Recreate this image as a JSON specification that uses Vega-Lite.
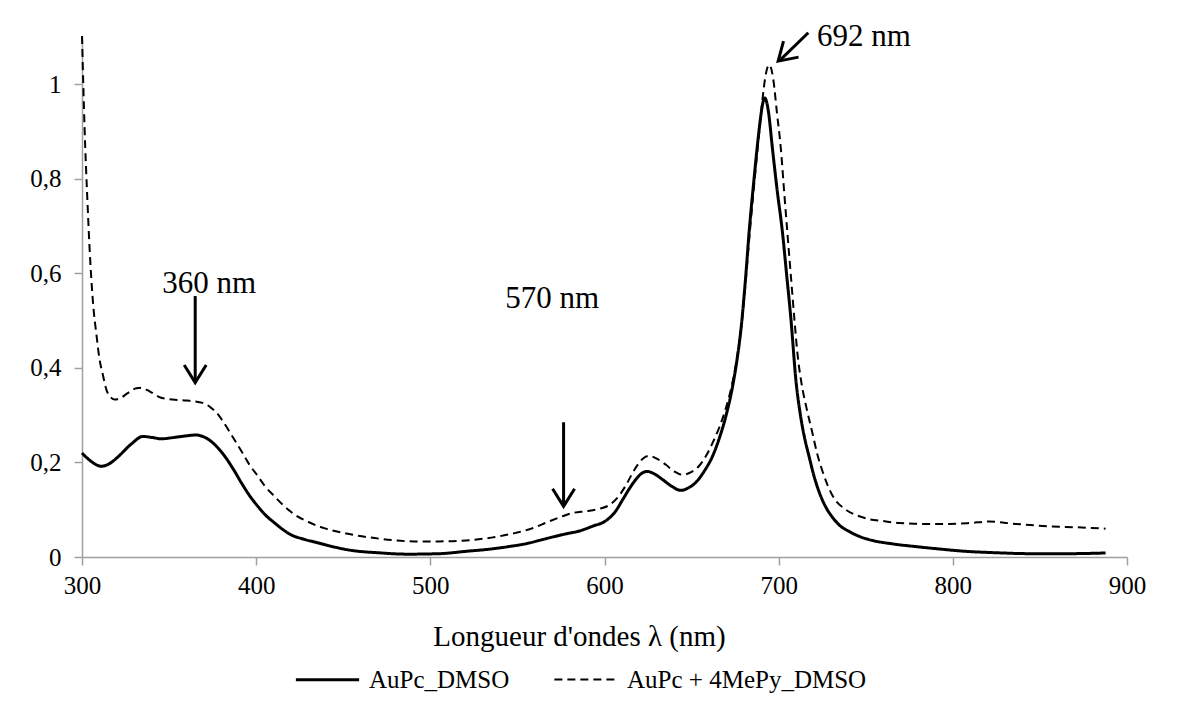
{
  "$schema": "https://vega.github.io/schema/vega-lite/v6.json",
  "width": 1045,
  "height": 520,
  "autosize": {"type": "none"},
  "padding": {"left": 82, "top": 37, "right": 57, "bottom": 151},
  "background": "white",
  "config": {
    "view": {"stroke": null},
    "font": "Liberation Serif",
    "axis": {
      "grid": false,
      "domainColor": "#a0a0a0",
      "domainWidth": 1.5,
      "tickColor": "#a0a0a0",
      "tickWidth": 1.5,
      "tickSize": 8,
      "labelFlush": false,
      "labelFont": "Liberation Serif",
      "labelFontSize": 25,
      "labelColor": "#000000",
      "titleFont": "Liberation Serif",
      "titleColor": "#000000",
      "titleFontWeight": "normal"
    }
  },
  "datasets": {
    "spectra": [
      {"s": "AuPc_DMSO", "wl": 300, "a": 0.220},
      {"s": "AuPc_DMSO", "wl": 305, "a": 0.203},
      {"s": "AuPc_DMSO", "wl": 311, "a": 0.192},
      {"s": "AuPc_DMSO", "wl": 316, "a": 0.198},
      {"s": "AuPc_DMSO", "wl": 321, "a": 0.213},
      {"s": "AuPc_DMSO", "wl": 328, "a": 0.238},
      {"s": "AuPc_DMSO", "wl": 335, "a": 0.255},
      {"s": "AuPc_DMSO", "wl": 340, "a": 0.253},
      {"s": "AuPc_DMSO", "wl": 345.5, "a": 0.250},
      {"s": "AuPc_DMSO", "wl": 351, "a": 0.252},
      {"s": "AuPc_DMSO", "wl": 357, "a": 0.255},
      {"s": "AuPc_DMSO", "wl": 365.6, "a": 0.258},
      {"s": "AuPc_DMSO", "wl": 370, "a": 0.254},
      {"s": "AuPc_DMSO", "wl": 374, "a": 0.245},
      {"s": "AuPc_DMSO", "wl": 378, "a": 0.231},
      {"s": "AuPc_DMSO", "wl": 382, "a": 0.213},
      {"s": "AuPc_DMSO", "wl": 387, "a": 0.185},
      {"s": "AuPc_DMSO", "wl": 391.5, "a": 0.157},
      {"s": "AuPc_DMSO", "wl": 396, "a": 0.131},
      {"s": "AuPc_DMSO", "wl": 401, "a": 0.107},
      {"s": "AuPc_DMSO", "wl": 405, "a": 0.090},
      {"s": "AuPc_DMSO", "wl": 410.6, "a": 0.072},
      {"s": "AuPc_DMSO", "wl": 415, "a": 0.059},
      {"s": "AuPc_DMSO", "wl": 420, "a": 0.047},
      {"s": "AuPc_DMSO", "wl": 427, "a": 0.038},
      {"s": "AuPc_DMSO", "wl": 435.4, "a": 0.030},
      {"s": "AuPc_DMSO", "wl": 445, "a": 0.021},
      {"s": "AuPc_DMSO", "wl": 454.6, "a": 0.014},
      {"s": "AuPc_DMSO", "wl": 470, "a": 0.009},
      {"s": "AuPc_DMSO", "wl": 487, "a": 0.006},
      {"s": "AuPc_DMSO", "wl": 505, "a": 0.007},
      {"s": "AuPc_DMSO", "wl": 520.5, "a": 0.012},
      {"s": "AuPc_DMSO", "wl": 535, "a": 0.017},
      {"s": "AuPc_DMSO", "wl": 545, "a": 0.022},
      {"s": "AuPc_DMSO", "wl": 556, "a": 0.029},
      {"s": "AuPc_DMSO", "wl": 564.5, "a": 0.037},
      {"s": "AuPc_DMSO", "wl": 571, "a": 0.043},
      {"s": "AuPc_DMSO", "wl": 578, "a": 0.049},
      {"s": "AuPc_DMSO", "wl": 585.6, "a": 0.055},
      {"s": "AuPc_DMSO", "wl": 593, "a": 0.065},
      {"s": "AuPc_DMSO", "wl": 600.9, "a": 0.077},
      {"s": "AuPc_DMSO", "wl": 606, "a": 0.095},
      {"s": "AuPc_DMSO", "wl": 610.4, "a": 0.121},
      {"s": "AuPc_DMSO", "wl": 614, "a": 0.143},
      {"s": "AuPc_DMSO", "wl": 618, "a": 0.164},
      {"s": "AuPc_DMSO", "wl": 621, "a": 0.176},
      {"s": "AuPc_DMSO", "wl": 624.7, "a": 0.181},
      {"s": "AuPc_DMSO", "wl": 628, "a": 0.177},
      {"s": "AuPc_DMSO", "wl": 633.3, "a": 0.164},
      {"s": "AuPc_DMSO", "wl": 638, "a": 0.151},
      {"s": "AuPc_DMSO", "wl": 643.9, "a": 0.141},
      {"s": "AuPc_DMSO", "wl": 648, "a": 0.146},
      {"s": "AuPc_DMSO", "wl": 652.5, "a": 0.158},
      {"s": "AuPc_DMSO", "wl": 657, "a": 0.180},
      {"s": "AuPc_DMSO", "wl": 662, "a": 0.213},
      {"s": "AuPc_DMSO", "wl": 666, "a": 0.252},
      {"s": "AuPc_DMSO", "wl": 669.7, "a": 0.298},
      {"s": "AuPc_DMSO", "wl": 673.5, "a": 0.360},
      {"s": "AuPc_DMSO", "wl": 676, "a": 0.415},
      {"s": "AuPc_DMSO", "wl": 678.3, "a": 0.480},
      {"s": "AuPc_DMSO", "wl": 681, "a": 0.590},
      {"s": "AuPc_DMSO", "wl": 683, "a": 0.686},
      {"s": "AuPc_DMSO", "wl": 686, "a": 0.805},
      {"s": "AuPc_DMSO", "wl": 688.5, "a": 0.895},
      {"s": "AuPc_DMSO", "wl": 690, "a": 0.940},
      {"s": "AuPc_DMSO", "wl": 691, "a": 0.962},
      {"s": "AuPc_DMSO", "wl": 692, "a": 0.971},
      {"s": "AuPc_DMSO", "wl": 693, "a": 0.964},
      {"s": "AuPc_DMSO", "wl": 694.2, "a": 0.940},
      {"s": "AuPc_DMSO", "wl": 696.4, "a": 0.865},
      {"s": "AuPc_DMSO", "wl": 699, "a": 0.780},
      {"s": "AuPc_DMSO", "wl": 702.2, "a": 0.686},
      {"s": "AuPc_DMSO", "wl": 704.5, "a": 0.600},
      {"s": "AuPc_DMSO", "wl": 707, "a": 0.505},
      {"s": "AuPc_DMSO", "wl": 710, "a": 0.370},
      {"s": "AuPc_DMSO", "wl": 712.5, "a": 0.300},
      {"s": "AuPc_DMSO", "wl": 715, "a": 0.250},
      {"s": "AuPc_DMSO", "wl": 717.5, "a": 0.212},
      {"s": "AuPc_DMSO", "wl": 720, "a": 0.175},
      {"s": "AuPc_DMSO", "wl": 723.2, "a": 0.138},
      {"s": "AuPc_DMSO", "wl": 727, "a": 0.106},
      {"s": "AuPc_DMSO", "wl": 730.9, "a": 0.084},
      {"s": "AuPc_DMSO", "wl": 735, "a": 0.067},
      {"s": "AuPc_DMSO", "wl": 740.5, "a": 0.054},
      {"s": "AuPc_DMSO", "wl": 746, "a": 0.044},
      {"s": "AuPc_DMSO", "wl": 753.8, "a": 0.035},
      {"s": "AuPc_DMSO", "wl": 765, "a": 0.028},
      {"s": "AuPc_DMSO", "wl": 778.7, "a": 0.022},
      {"s": "AuPc_DMSO", "wl": 792, "a": 0.017},
      {"s": "AuPc_DMSO", "wl": 807.4, "a": 0.012},
      {"s": "AuPc_DMSO", "wl": 825, "a": 0.009},
      {"s": "AuPc_DMSO", "wl": 845.6, "a": 0.007},
      {"s": "AuPc_DMSO", "wl": 865, "a": 0.007},
      {"s": "AuPc_DMSO", "wl": 887.7, "a": 0.0085},
      {"s": "AuPc + 4MePy_DMSO", "wl": 300, "a": 1.102},
      {"s": "AuPc + 4MePy_DMSO", "wl": 301.5, "a": 0.905},
      {"s": "AuPc + 4MePy_DMSO", "wl": 303, "a": 0.763},
      {"s": "AuPc + 4MePy_DMSO", "wl": 304.8, "a": 0.622},
      {"s": "AuPc + 4MePy_DMSO", "wl": 306.5, "a": 0.530},
      {"s": "AuPc + 4MePy_DMSO", "wl": 308.3, "a": 0.470},
      {"s": "AuPc + 4MePy_DMSO", "wl": 310, "a": 0.420},
      {"s": "AuPc + 4MePy_DMSO", "wl": 312, "a": 0.385},
      {"s": "AuPc + 4MePy_DMSO", "wl": 314, "a": 0.354},
      {"s": "AuPc + 4MePy_DMSO", "wl": 316.5, "a": 0.338},
      {"s": "AuPc + 4MePy_DMSO", "wl": 318.8, "a": 0.333},
      {"s": "AuPc + 4MePy_DMSO", "wl": 322, "a": 0.336},
      {"s": "AuPc + 4MePy_DMSO", "wl": 326, "a": 0.346},
      {"s": "AuPc + 4MePy_DMSO", "wl": 331.2, "a": 0.357},
      {"s": "AuPc + 4MePy_DMSO", "wl": 334, "a": 0.358},
      {"s": "AuPc + 4MePy_DMSO", "wl": 339, "a": 0.350},
      {"s": "AuPc + 4MePy_DMSO", "wl": 344.6, "a": 0.338},
      {"s": "AuPc + 4MePy_DMSO", "wl": 352, "a": 0.333},
      {"s": "AuPc + 4MePy_DMSO", "wl": 360, "a": 0.331},
      {"s": "AuPc + 4MePy_DMSO", "wl": 369.4, "a": 0.326},
      {"s": "AuPc + 4MePy_DMSO", "wl": 374, "a": 0.316},
      {"s": "AuPc + 4MePy_DMSO", "wl": 378, "a": 0.302},
      {"s": "AuPc + 4MePy_DMSO", "wl": 380, "a": 0.292},
      {"s": "AuPc + 4MePy_DMSO", "wl": 384.7, "a": 0.265},
      {"s": "AuPc + 4MePy_DMSO", "wl": 391.5, "a": 0.224},
      {"s": "AuPc + 4MePy_DMSO", "wl": 396, "a": 0.196},
      {"s": "AuPc + 4MePy_DMSO", "wl": 401, "a": 0.171},
      {"s": "AuPc + 4MePy_DMSO", "wl": 405, "a": 0.150},
      {"s": "AuPc + 4MePy_DMSO", "wl": 410.6, "a": 0.128},
      {"s": "AuPc + 4MePy_DMSO", "wl": 416, "a": 0.108},
      {"s": "AuPc + 4MePy_DMSO", "wl": 422, "a": 0.090},
      {"s": "AuPc + 4MePy_DMSO", "wl": 430, "a": 0.074},
      {"s": "AuPc + 4MePy_DMSO", "wl": 439, "a": 0.061},
      {"s": "AuPc + 4MePy_DMSO", "wl": 450, "a": 0.051},
      {"s": "AuPc + 4MePy_DMSO", "wl": 468, "a": 0.040},
      {"s": "AuPc + 4MePy_DMSO", "wl": 491, "a": 0.033},
      {"s": "AuPc + 4MePy_DMSO", "wl": 505, "a": 0.033},
      {"s": "AuPc + 4MePy_DMSO", "wl": 520.5, "a": 0.035},
      {"s": "AuPc + 4MePy_DMSO", "wl": 535, "a": 0.041},
      {"s": "AuPc + 4MePy_DMSO", "wl": 549, "a": 0.051},
      {"s": "AuPc + 4MePy_DMSO", "wl": 558, "a": 0.060},
      {"s": "AuPc + 4MePy_DMSO", "wl": 568, "a": 0.075},
      {"s": "AuPc + 4MePy_DMSO", "wl": 575, "a": 0.085},
      {"s": "AuPc + 4MePy_DMSO", "wl": 581.7, "a": 0.093},
      {"s": "AuPc + 4MePy_DMSO", "wl": 590, "a": 0.097},
      {"s": "AuPc + 4MePy_DMSO", "wl": 597, "a": 0.102},
      {"s": "AuPc + 4MePy_DMSO", "wl": 602.8, "a": 0.110},
      {"s": "AuPc + 4MePy_DMSO", "wl": 608, "a": 0.128},
      {"s": "AuPc + 4MePy_DMSO", "wl": 612, "a": 0.150},
      {"s": "AuPc + 4MePy_DMSO", "wl": 616, "a": 0.177},
      {"s": "AuPc + 4MePy_DMSO", "wl": 619, "a": 0.195},
      {"s": "AuPc + 4MePy_DMSO", "wl": 622, "a": 0.208},
      {"s": "AuPc + 4MePy_DMSO", "wl": 625.7, "a": 0.214},
      {"s": "AuPc + 4MePy_DMSO", "wl": 630, "a": 0.208},
      {"s": "AuPc + 4MePy_DMSO", "wl": 635.3, "a": 0.195},
      {"s": "AuPc + 4MePy_DMSO", "wl": 640, "a": 0.181},
      {"s": "AuPc + 4MePy_DMSO", "wl": 644.8, "a": 0.174},
      {"s": "AuPc + 4MePy_DMSO", "wl": 650, "a": 0.180},
      {"s": "AuPc + 4MePy_DMSO", "wl": 654.4, "a": 0.193},
      {"s": "AuPc + 4MePy_DMSO", "wl": 658, "a": 0.212},
      {"s": "AuPc + 4MePy_DMSO", "wl": 662, "a": 0.241},
      {"s": "AuPc + 4MePy_DMSO", "wl": 666, "a": 0.275},
      {"s": "AuPc + 4MePy_DMSO", "wl": 669.7, "a": 0.315},
      {"s": "AuPc + 4MePy_DMSO", "wl": 673.5, "a": 0.370},
      {"s": "AuPc + 4MePy_DMSO", "wl": 676, "a": 0.420},
      {"s": "AuPc + 4MePy_DMSO", "wl": 678.5, "a": 0.485},
      {"s": "AuPc + 4MePy_DMSO", "wl": 681, "a": 0.580},
      {"s": "AuPc + 4MePy_DMSO", "wl": 683.5, "a": 0.690},
      {"s": "AuPc + 4MePy_DMSO", "wl": 686.5, "a": 0.810},
      {"s": "AuPc + 4MePy_DMSO", "wl": 689, "a": 0.905},
      {"s": "AuPc + 4MePy_DMSO", "wl": 690.7, "a": 0.968},
      {"s": "AuPc + 4MePy_DMSO", "wl": 692.2, "a": 1.012},
      {"s": "AuPc + 4MePy_DMSO", "wl": 693.5, "a": 1.035},
      {"s": "AuPc + 4MePy_DMSO", "wl": 694.5, "a": 1.041},
      {"s": "AuPc + 4MePy_DMSO", "wl": 695.5, "a": 1.036},
      {"s": "AuPc + 4MePy_DMSO", "wl": 697, "a": 1.008},
      {"s": "AuPc + 4MePy_DMSO", "wl": 699, "a": 0.940},
      {"s": "AuPc + 4MePy_DMSO", "wl": 701.3, "a": 0.862},
      {"s": "AuPc + 4MePy_DMSO", "wl": 703, "a": 0.780},
      {"s": "AuPc + 4MePy_DMSO", "wl": 705, "a": 0.686},
      {"s": "AuPc + 4MePy_DMSO", "wl": 707, "a": 0.595},
      {"s": "AuPc + 4MePy_DMSO", "wl": 708.9, "a": 0.509},
      {"s": "AuPc + 4MePy_DMSO", "wl": 710.8, "a": 0.430},
      {"s": "AuPc + 4MePy_DMSO", "wl": 713, "a": 0.370},
      {"s": "AuPc + 4MePy_DMSO", "wl": 716, "a": 0.315},
      {"s": "AuPc + 4MePy_DMSO", "wl": 719.4, "a": 0.262},
      {"s": "AuPc + 4MePy_DMSO", "wl": 722, "a": 0.220},
      {"s": "AuPc + 4MePy_DMSO", "wl": 725.1, "a": 0.182},
      {"s": "AuPc + 4MePy_DMSO", "wl": 730.9, "a": 0.130},
      {"s": "AuPc + 4MePy_DMSO", "wl": 738.6, "a": 0.100},
      {"s": "AuPc + 4MePy_DMSO", "wl": 745, "a": 0.088},
      {"s": "AuPc + 4MePy_DMSO", "wl": 751.9, "a": 0.080},
      {"s": "AuPc + 4MePy_DMSO", "wl": 760, "a": 0.076},
      {"s": "AuPc + 4MePy_DMSO", "wl": 769.1, "a": 0.072},
      {"s": "AuPc + 4MePy_DMSO", "wl": 785, "a": 0.070},
      {"s": "AuPc + 4MePy_DMSO", "wl": 797.8, "a": 0.070},
      {"s": "AuPc + 4MePy_DMSO", "wl": 810, "a": 0.072},
      {"s": "AuPc + 4MePy_DMSO", "wl": 820.7, "a": 0.075},
      {"s": "AuPc + 4MePy_DMSO", "wl": 836, "a": 0.070},
      {"s": "AuPc + 4MePy_DMSO", "wl": 855, "a": 0.065},
      {"s": "AuPc + 4MePy_DMSO", "wl": 870, "a": 0.063},
      {"s": "AuPc + 4MePy_DMSO", "wl": 887.7, "a": 0.060}
    ],
    "labels": [
      {"label": "360 nm", "wl": 373, "a": 0.577},
      {"label": "570 nm", "wl": 570, "a": 0.545},
      {"label": "692 nm", "wl": 749, "a": 1.100}
    ],
    "shafts": [
      {"wl": 365, "a": 0.552, "wl2": 365, "a2": 0.372},
      {"wl": 576.5, "a": 0.285, "wl2": 576.5, "a2": 0.110},
      {"wl": 717, "a": 1.109, "wl2": 700.5, "a2": 1.050}
    ],
    "heads": [
      {"wl": 365, "a": 0.369, "ang": 0},
      {"wl": 576.5, "a": 0.107, "ang": 0},
      {"wl": 699.7, "a": 1.049, "ang": 47}
    ]
  },
  "layer": [
    {
      "data": {"name": "spectra"},
      "mark": {"type": "line", "color": "#000000", "interpolate": "monotone", "clip": false},
      "encoding": {
        "x": {
          "field": "wl", "type": "quantitative",
          "scale": {"domain": [300, 900], "nice": false, "zero": false},
          "axis": {
            "values": [300, 400, 500, 600, 700, 800, 900],
            "labelFont": "Liberation Serif",
            "labelFontSize": 25,
            "labelFlush": false,
            "labelPadding": 8,
            "title": "Longueur d'ondes λ (nm)",
            "titleFont": "Liberation Serif",
            "titleFontSize": 29,
            "titleX": 497,
            "titleY": 88,
            "titleBaseline": "alphabetic"
          }
        },
        "y": {
          "field": "a", "type": "quantitative",
          "scale": {"domain": [0, 1.1], "nice": false},
          "axis": {
            "values": [0, 0.2, 0.4, 0.6, 0.8, 1],
            "labelExpr": "replace(format(datum.value, '.1~f'), '.', ',')",
            "labelFont": "Liberation Serif",
            "labelFontSize": 25,
            "labelFlush": false,
            "labelPadding": 13,
            "title": null
          }
        },
        "strokeDash": {
          "field": "s", "type": "nominal",
          "scale": {"domain": ["AuPc_DMSO", "AuPc + 4MePy_DMSO"], "range": [[1, 0], [8, 5]]},
          "legend": {
            "title": null,
            "orient": "none",
            "direction": "horizontal",
            "legendX": 212,
            "legendY": 609,
            "symbolType": "stroke",
            "symbolSize": 4000,
            "symbolStrokeWidth": 2.5,
            "symbolStrokeColor": "#000000",
            "labelFont": "Liberation Serif",
            "labelFontSize": 25,
            "labelColor": "#000000",
            "labelOffset": 8,
            "columnPadding": 40,
            "labelLimit": 400
          }
        },
        "strokeWidth": {
          "field": "s", "type": "ordinal",
          "scale": {"domain": ["AuPc_DMSO", "AuPc + 4MePy_DMSO"], "range": [3, 2]},
          "legend": null
        }
      }
    },
    {
      "data": {"name": "labels"},
      "mark": {"type": "text", "font": "Liberation Serif", "fontSize": 31, "color": "#000000", "align": "center", "baseline": "middle"},
      "encoding": {
        "x": {"field": "wl", "type": "quantitative"},
        "y": {"field": "a", "type": "quantitative"},
        "text": {"field": "label"}
      }
    },
    {
      "data": {"name": "shafts"},
      "mark": {"type": "rule", "color": "#000000", "strokeWidth": 3},
      "encoding": {
        "x": {"field": "wl", "type": "quantitative"},
        "y": {"field": "a", "type": "quantitative"},
        "x2": {"field": "wl2"},
        "y2": {"field": "a2"}
      }
    },
    {
      "data": {"name": "heads"},
      "mark": {"type": "point", "shape": "M-1,-1.6L0,0L1,-1.6", "filled": false, "stroke": "#000000", "strokeWidth": 3, "size": 484, "opacity": 1},
      "encoding": {
        "x": {"field": "wl", "type": "quantitative"},
        "y": {"field": "a", "type": "quantitative"},
        "angle": {"field": "ang", "type": "quantitative", "scale": null}
      }
    }
  ]
}
